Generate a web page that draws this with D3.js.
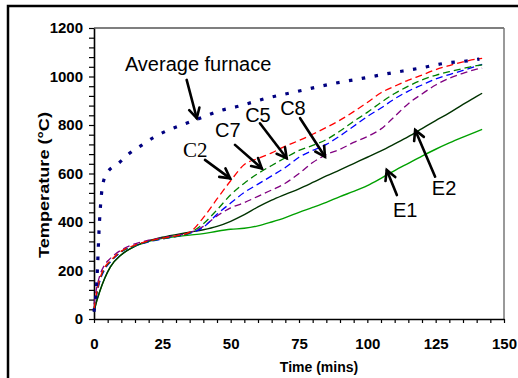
<!DOCTYPE html>
<html>
<head>
<meta charset="utf-8">
<script src="https://cdn.jsdelivr.net/npm/d3@7"></script>
<style>
  body { margin: 0; background: #fff; }
  svg { display: block; }
</style>
</head>
<body>
<div id="chart"></div>
<script>
// time grid (mins) for the thermocouple curves
var times = [0, 1, 2, 4, 6, 10, 15, 20, 25, 30, 35, 40, 45, 50, 55, 60, 65, 70, 75, 80,
    85, 90, 95, 100, 105, 110, 115, 120, 125, 130, 135, 140, 142];

var c2 = [40, 110, 160, 215, 240, 280, 305, 322, 333, 343, 358, 418, 495, 570, 637, 662,
    685, 713, 736, 762, 790, 820, 855, 893, 933, 960, 985, 1006, 1028, 1045, 1060, 1072, 1075];
var c7 = [40, 105, 155, 210, 237, 278, 303, 320, 331, 341, 355, 393, 450, 512, 560, 600,
    633, 665, 695, 716, 740, 775, 815, 852, 893, 930, 960, 986, 1005, 1020, 1033, 1045, 1048];
var c5 = [40, 100, 150, 205, 235, 276, 302, 318, 330, 340, 353, 378, 432, 478, 522, 556,
    590, 625, 667, 695, 720, 755, 795, 835, 870, 908, 940, 965, 990, 1008, 1025, 1043, 1050];
var c8 = [60, 130, 175, 225, 250, 285, 310, 325, 335, 344, 356, 382, 425, 458, 480, 506,
    532, 560, 600, 645, 678, 700, 728, 752, 784, 835, 888, 928, 965, 993, 1013, 1030, 1035];
var e2 = [30, 75, 110, 170, 215, 265, 300, 322, 337, 348, 358, 368, 382, 403, 430, 462,
    490, 514, 537, 563, 590, 615, 641, 667, 693, 722, 752, 785, 818, 850, 885, 918, 931];
var e1 = [30, 75, 110, 170, 215, 265, 300, 320, 333, 340, 346, 352, 362, 370, 374, 384,
    400, 418, 440, 460, 481, 505, 526, 550, 580, 612, 642, 672, 700, 726, 750, 773, 782];

// average furnace temperature, read at its own times
var furnaceTimes = [0, 1, 2, 3, 4.6, 9, 13, 17.5, 22, 27, 32, 37.5, 47, 52, 63, 73, 88, 98,
    108, 119, 128, 139, 141];
var furnace = [30, 148, 400, 540, 600, 642, 683, 717, 750, 778, 800, 823, 862, 875, 910,
    935, 972, 992, 1013, 1034, 1054, 1068, 1072];

var xTicks = [0, 25, 50, 75, 100, 125, 150];
var yTicks = [0, 200, 400, 600, 800, 1000, 1200];

// annotation labels and arrows, in data units [t, T]
var labels = [
    { text: "Average furnace", t: 11.3, T: 1023, serif: false },
    { text: "C2", t: 32.6, T: 668, serif: true },
    { text: "C7", t: 44.3, T: 750, serif: false },
    { text: "C5", t: 55.3, T: 812, serif: false },
    { text: "C8", t: 68.1, T: 841, serif: false },
    { text: "E2", t: 123.6, T: 511, serif: false },
    { text: "E1", t: 109.4, T: 422, serif: false }
];
var arrows = [
    [33.9, 986, 37.6, 828],
    [40.6, 656, 49.8, 580],
    [51.6, 718, 61.4, 621],
    [60.7, 807, 70.5, 663],
    [75.4, 828, 84.5, 669],
    [124.8, 587, 117.5, 779],
    [110.8, 511, 107.1, 614]
];

var series = [
    { name: "C2", values: c2, color: "#ff0000" },
    { name: "C7", values: c7, color: "#008000" },
    { name: "C5", values: c5, color: "#0000ff" },
    { name: "C8", values: c8, color: "#800080" }
];
var solids = [
    { name: "E1", values: e1, color: "#00a000" },
    { name: "E2", values: e2, color: "#003300" }
];

var svg = d3.select("#chart").append("svg")
    .attr("width", 518)
    .attr("height", 378);

// outer frame
svg.append("rect")
    .attr("x", 8).attr("y", 6)
    .attr("width", 620).attr("height", 420)
    .attr("fill", "none")
    .attr("stroke", "#000")
    .attr("stroke-width", 2.5);

var x = d3.scaleLinear().domain([0, 150]).range([94, 504]);
var y = d3.scaleLinear().domain([0, 1200]).range([319, 28]);

// plot border top and right
svg.append("line")
    .attr("x1", x(0)).attr("x2", x(150))
    .attr("y1", y(1200)).attr("y2", y(1200))
    .attr("stroke", "#555").attr("stroke-width", 1.3);
svg.append("line")
    .attr("x1", x(150)).attr("x2", x(150))
    .attr("y1", y(1200)).attr("y2", y(0))
    .attr("stroke", "#777").attr("stroke-width", 1.5);

// axes
var xAxis = svg.append("g")
    .attr("transform", "translate(0," + y(0) + ")")
    .call(d3.axisBottom(x)
        .tickValues(d3.range(0, 151, 5))
        .tickSize(4).tickSizeOuter(0).tickPadding(15)
        .tickFormat(function (d) { return xTicks.indexOf(d) >= 0 ? d : ""; }));

var yAxis = svg.append("g")
    .attr("transform", "translate(" + x(0) + ",0)")
    .call(d3.axisLeft(y)
        .tickValues(d3.range(0, 1201, 40))
        .tickSize(5).tickSizeOuter(0).tickPadding(6)
        .tickFormat(function (d) { return yTicks.indexOf(d) >= 0 ? d : ""; }));

[xAxis, yAxis].forEach(function (g) {
    g.select(".domain").attr("stroke", "#000").attr("stroke-width", 1.6);
    g.selectAll(".tick line").attr("stroke", "#000").attr("stroke-width", 1.2);
    g.selectAll(".tick text")
        .attr("fill", "#000")
        .style("font-family", "Arial, 'Liberation Sans', sans-serif")
        .style("font-weight", "bold")
        .style("font-size", "15px");
});

// axis titles
svg.append("text")
    .attr("x", 319).attr("y", 372)
    .attr("text-anchor", "middle")
    .style("font-family", "Arial, 'Liberation Sans', sans-serif")
    .style("font-weight", "bold")
    .style("font-size", "14px")
    .text("Time (mins)");

svg.append("text")
    .attr("transform", "translate(49,185) rotate(-90)")
    .attr("text-anchor", "middle")
    .attr("textLength", 146)
    .attr("lengthAdjust", "spacingAndGlyphs")
    .style("font-family", "Arial, 'Liberation Sans', sans-serif")
    .style("font-weight", "bold")
    .style("font-size", "15px")
    .text("Temperature (\u00B0C)");

var line = d3.line()
    .curve(d3.curveMonotoneX)
    .x(function (d) { return x(d[0]); })
    .y(function (d) { return y(d[1]); });

function pairs(ts, vs) {
    return ts.map(function (t, i) { return [t, vs[i]]; });
}

// solid E curves
svg.selectAll(".solid")
    .data(solids)
    .enter().append("path")
    .attr("class", "solid")
    .attr("d", function (d) { return line(pairs(times, d.values)); })
    .attr("fill", "none")
    .attr("stroke", function (d) { return d.color; })
    .attr("stroke-width", 1.4);

// dashed C curves
svg.selectAll(".dashed")
    .data(series.slice().reverse())
    .enter().append("path")
    .attr("class", "dashed")
    .attr("d", function (d) { return line(pairs(times, d.values)); })
    .attr("fill", "none")
    .attr("stroke", function (d) { return d.color; })
    .attr("stroke-width", 1.3)
    .attr("stroke-dasharray", "7,4");

// average furnace
svg.append("path")
    .attr("d", line(pairs(furnaceTimes, furnace)))
    .attr("fill", "none")
    .attr("stroke", "#000080")
    .attr("stroke-width", 3.2)
    .attr("stroke-dasharray", "3.5,9.5");

// annotation arrows
arrows.forEach(function (a) {
    var x1 = x(a[0]), y1 = y(a[1]), x2 = x(a[2]), y2 = y(a[3]);
    var ang = Math.atan2(y2 - y1, x2 - x1);
    var head = 11, spread = 0.5;
    var g = svg.append("g")
        .attr("stroke", "#000")
        .attr("stroke-width", 2.6)
        .attr("stroke-linecap", "round")
        .attr("fill", "none");
    g.append("line").attr("x1", x1).attr("y1", y1).attr("x2", x2).attr("y2", y2);
    g.append("path").attr("d",
        "M" + (x2 - head * Math.cos(ang - spread)) + "," + (y2 - head * Math.sin(ang - spread)) +
        "L" + x2 + "," + y2 +
        "L" + (x2 - head * Math.cos(ang + spread)) + "," + (y2 - head * Math.sin(ang + spread)));
});

// annotation labels
svg.selectAll(".label")
    .data(labels)
    .enter().append("text")
    .attr("class", "label")
    .attr("x", function (d) { return x(d.t); })
    .attr("y", function (d) { return y(d.T); })
    .style("font-family", function (d) {
        return d.serif ? "'Times New Roman', 'Liberation Serif', serif" : "Arial, 'Liberation Sans', sans-serif";
    })
    .style("font-size", function (d) { return d.serif ? "21px" : "20px"; })
    .text(function (d) { return d.text; });
</script>
</body>
</html>
